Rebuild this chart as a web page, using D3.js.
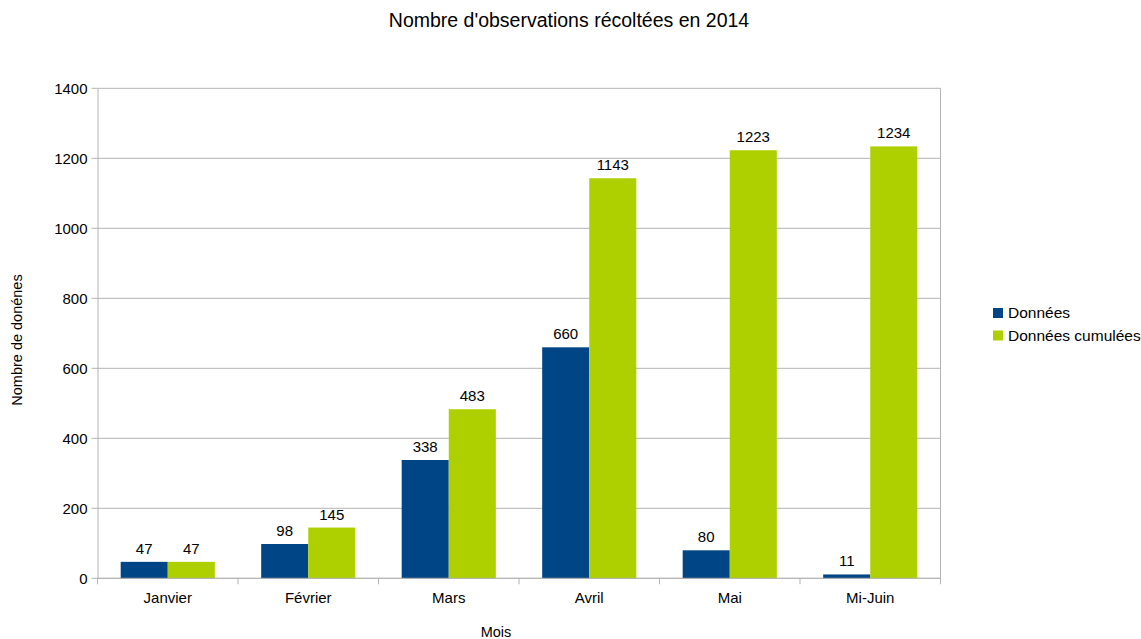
<!DOCTYPE html>
<html>
<head>
<meta charset="utf-8">
<script src="https://cdn.jsdelivr.net/npm/d3@7.9.0/dist/d3.min.js"></script>
<style>
  body { margin: 0; background: #fff; }
  svg { font-family: "Liberation Sans", Arial, sans-serif; }
</style>
</head>
<body>
<svg width="1141" height="639"></svg>
<script>
const months = ['Janvier', 'Février', 'Mars', 'Avril', 'Mai', 'Mi-Juin'];
const donnees = [47, 98, 338, 660, 80, 11];
const cumulees = [47, 145, 483, 1143, 1223, 1234];
const seriesNames = ['Données', 'Données cumulées'];
const yTicks = [0, 200, 400, 600, 800, 1000, 1200, 1400];

const colors = ['#004586', '#aecf00'];
const svg = d3.select('svg');

const plotLeft = 97.5, plotRight = 940.5, plotTop = 88.3, plotBottom = 578.3;

const x = d3.scaleBand().domain(months).range([plotLeft, plotRight]);
const x1 = d3.scaleBand().domain(seriesNames)
  .range([x.bandwidth() * 0.165, x.bandwidth() * 0.835]);
const y = d3.scaleLinear().domain([0, 1400]).range([plotBottom, plotTop]);

// grid lines
svg.append('g')
  .selectAll('line')
  .data(yTicks)
  .join('line')
  .attr('x1', plotLeft - 6).attr('x2', plotRight)
  .attr('y1', d => y(d)).attr('y2', d => y(d))
  .attr('stroke', '#b3b3b3').attr('stroke-width', 1);

// y axis
const yAxis = svg.append('g')
  .attr('transform', `translate(${plotLeft},0)`)
  .call(d3.axisLeft(y).tickValues(yTicks).tickFormat(d3.format('d')).tickSize(0).tickPadding(10));
yAxis.select('.domain').attr('stroke', '#b3b3b3');
yAxis.selectAll('text').attr('font-size', 15).attr('fill', '#000')
  .attr('font-family', '"Liberation Sans", Arial, sans-serif');

// right border
svg.append('line')
  .attr('x1', plotRight).attr('x2', plotRight).attr('y1', plotTop).attr('y2', plotBottom)
  .attr('stroke', '#b3b3b3');

// bars
const rows = months.map((m, i) => ({ month: m, values: [donnees[i], cumulees[i]] }));
const groups = svg.append('g')
  .selectAll('g')
  .data(rows)
  .join('g')
  .attr('transform', d => `translate(${x(d.month)},0)`);

groups.selectAll('rect')
  .data(d => d.values.map((v, k) => ({ key: seriesNames[k], v, k })))
  .join('rect')
  .attr('x', d => x1(d.key))
  .attr('width', x1.bandwidth())
  .attr('y', d => y(d.v))
  .attr('height', d => y(0) - y(d.v))
  .attr('fill', d => colors[d.k]);

groups.selectAll('text')
  .data(d => d.values.map((v, k) => ({ key: seriesNames[k], v, k })))
  .join('text')
  .attr('x', d => x1(d.key) + x1.bandwidth() / 2)
  .attr('y', d => y(d.v) - 8)
  .attr('text-anchor', 'middle')
  .attr('font-size', 15)
  .attr('fill', '#000')
  .text(d => d.v);

// x axis
const xAxis = svg.append('g')
  .attr('transform', `translate(0,${plotBottom})`)
  .call(d3.axisBottom(x).tickSize(0).tickPadding(14));
xAxis.select('.domain').remove();
xAxis.selectAll('text').attr('font-size', 15).attr('fill', '#000')
  .attr('font-family', '"Liberation Sans", Arial, sans-serif');
svg.append('line')
  .attr('x1', plotLeft).attr('x2', plotRight).attr('y1', plotBottom).attr('y2', plotBottom)
  .attr('stroke', '#b3b3b3');
// category separators
svg.append('g')
  .selectAll('line')
  .data(months.concat(['end']))
  .join('line')
  .attr('x1', (d, i) => plotLeft + i * x.step())
  .attr('x2', (d, i) => plotLeft + i * x.step())
  .attr('y1', plotBottom).attr('y2', plotBottom + 6)
  .attr('stroke', '#b3b3b3');

// title
svg.append('text')
  .attr('x', 569).attr('y', 27)
  .attr('text-anchor', 'middle')
  .attr('font-size', 19.5)
  .text("Nombre d'observations récoltées en 2014");

// axis titles
svg.append('text')
  .attr('x', 496).attr('y', 637)
  .attr('text-anchor', 'middle')
  .attr('font-size', 14.5)
  .text('Mois');
svg.append('text')
  .attr('transform', 'translate(22,340) rotate(-90)')
  .attr('text-anchor', 'middle')
  .attr('font-size', 14.5)
  .text('Nombre de donénes');

// legend
const legend = svg.append('g')
  .selectAll('g')
  .data(seriesNames)
  .join('g')
  .attr('transform', (d, i) => `translate(993,${308 + i * 22.5})`);
legend.append('rect')
  .attr('width', 10).attr('height', 10)
  .attr('fill', (d, i) => colors[i]);
legend.append('text')
  .attr('x', 15).attr('y', 10)
  .attr('font-size', 15.5)
  .text(d => d);
</script>
</body>
</html>
